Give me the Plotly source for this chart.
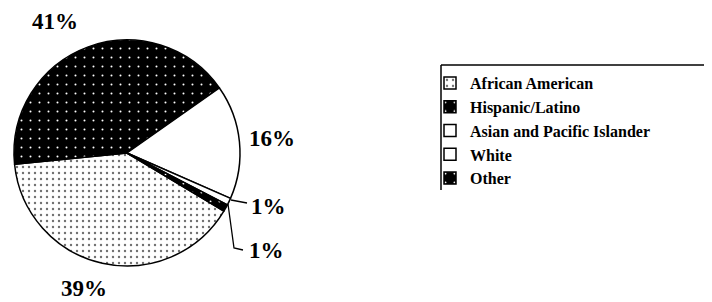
import plotly.graph_objects as go

# page is rendered with an 8px body margin; work in page pixels and convert
OFF = 8
W, H = 712 - OFF, 302 - OFF

categories = ["African American", "Hispanic/Latino", "Asian and Pacific Islander", "White", "Other"]
values = [39, 41, 16, 1, 1]

fill_bg = ["white", "black", "white", "white", "black"]
fill_fg = ["#707070", "white", "black", "black", "white"]
pat_shape = [".", ".", "", "", "."]
pat_size = [6, 9, 6, 6, 9]
pat_solid = [0.12, 0.04, 0.2, 0.2, 0.04]

def px(x):
    return (x - OFF) / W

def py(y):
    return 1 - (y - OFF) / H

cx, cy, r = 127, 153, 113

fig = go.Figure(go.Pie(
    labels=categories,
    values=values,
    sort=False,
    direction="clockwise",
    rotation=121,
    textinfo="none",
    hoverinfo="label+value",
    marker=dict(
        colors=fill_bg,
        line=dict(color="black", width=1.5),
        pattern=dict(shape=pat_shape, fgcolor=fill_fg, bgcolor=fill_bg,
                     size=pat_size, solidity=pat_solid, fillmode="replace"),
    ),
    domain=dict(x=[px(cx - r), px(cx + r)], y=[py(cy + r), py(cy - r)]),
))

label_font = dict(family="Liberation Serif", size=23, color="black", weight="bold")
label_pos = [(84, 288), (55, 21), (272, 139), (268, 206), (266, 250)]
annotations = []
for v, (x, y) in zip(values, label_pos):
    annotations.append(dict(
        x=px(x), y=py(y), xref="paper", yref="paper",
        text=f"{v}%", showarrow=False, font=label_font,
        xanchor="center", yanchor="middle",
    ))

shapes = [
    # leader lines for small slices
    dict(type="path", xref="paper", yref="paper",
         path=f"M {px(231)},{py(200)} L {px(247)},{py(203)}",
         line=dict(color="black", width=1.3)),
    dict(type="path", xref="paper", yref="paper",
         path=f"M {px(228)},{py(204)} L {px(234)},{py(248)} L {px(243)},{py(250)}",
         line=dict(color="black", width=1.3)),
    # legend frame (top and left edges)
    dict(type="line", xref="paper", yref="paper",
         x0=px(441), x1=px(712), y0=py(65), y1=py(65),
         line=dict(color="black", width=1.5)),
    dict(type="line", xref="paper", yref="paper",
         x0=px(441), x1=px(441), y0=py(65), y1=py(190),
         line=dict(color="black", width=1.5)),
]

fig.update_layout(
    width=W, height=H,
    margin=dict(l=0, r=0, t=0, b=0),
    paper_bgcolor="white",
    plot_bgcolor="white",
    showlegend=True,
    legend=dict(
        x=px(430), y=py(66), xanchor="left", yanchor="top",
        font=dict(family="Liberation Serif", size=16, color="black", weight="bold"),
        bgcolor="rgba(0,0,0,0)",
        itemclick=False, itemdoubleclick=False,
        traceorder="normal",
    ),
    annotations=annotations,
    shapes=shapes,
)

fig.write_html("out.html")
